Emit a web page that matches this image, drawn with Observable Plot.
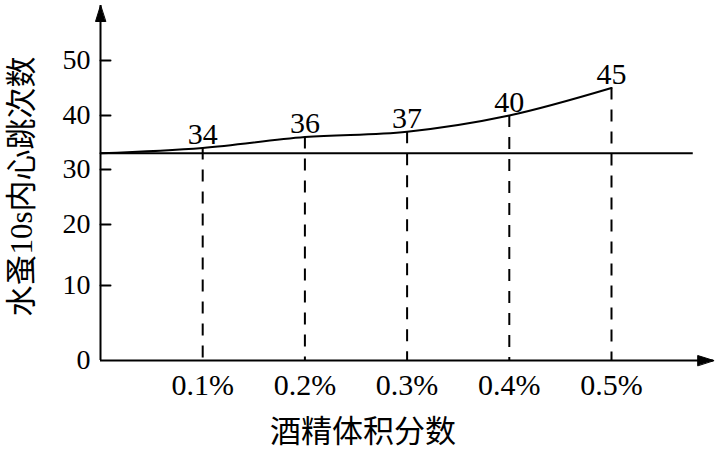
<!DOCTYPE html>
<html><head><meta charset="utf-8">
<script src="https://cdn.jsdelivr.net/npm/d3@7"></script>
<script src="https://cdn.jsdelivr.net/npm/@observablehq/plot@0.6"></script>
<style>body{margin:0;background:#fff}</style>
</head><body><div id="chart"></div>
<script>
// Data
const concentrations = [0, 0.1, 0.2, 0.3, 0.4, 0.5];   // 酒精体积分数 (%)
const heartbeats = [33, 34, 36, 37, 40, 45];           // 水蚤10s内心跳次数
const baseline = 33;                                    // 清水对照
const xTicks = [0.1, 0.2, 0.3, 0.4, 0.5];
const yTicks = [0, 10, 20, 30, 40, 50];
const xTitle = "酒精体积分数";
const yTitle = "水蚤10s内心跳次数";
const xAxisEnd = 0.6;
const yAxisEnd = 60;
const baselineEnd = 0.58;

// The printed y axis is not evenly spaced; warp values onto it (scale config)
const yWarp = d3.scaleLinear().domain(yTicks).range([0, 75, 136, 191, 245, 300]);

const points = concentrations.map((c, i) => ({c, n: heartbeats[i]}));
const labeled = points.filter(d => d.c > 0);

const font = '"Liberation Serif", "Times New Roman", "Noto Sans CJK SC", serif';
const tickShape = {draw(ctx, l) { ctx.moveTo(0, 0); ctx.lineTo(0, -l); }};
const headShape = {draw(ctx) { ctx.moveTo(0, 0); ctx.lineTo(-5, 16); ctx.lineTo(5, 16); ctx.closePath(); }};

const chart = Plot.plot({
  width: 721, height: 461,
  marginLeft: 100, marginRight: 110, marginTop: 60, marginBottom: 101,
  style: {fontFamily: font, background: "white", color: "black"},
  x: {domain: [0, 0.5], range: [100, 611]},
  y: {transform: yWarp, domain: [0, 300], range: [360, 60], axis: null},
  marks: [
    Plot.axisX({ticks: xTicks, tickSize: 0, tickPadding: 13, tickFormat: d => d + "%", fontSize: 30, label: null}),
    Plot.text(yTicks, {x: 0, y: d => d, text: d => String(d), textAnchor: "end", lineAnchor: "middle", dx: -10, fontSize: 28}),
    Plot.ruleY([baseline], {x1: 0, x2: baselineEnd, strokeWidth: 2}),
    Plot.ruleX(labeled, {x: "c", y1: "n", y2: 0, strokeDasharray: "12,10", strokeWidth: 2}),
    Plot.line(points, {x: "c", y: "n", curve: "monotone-x", strokeWidth: 2}),
    Plot.text(labeled, {x: "c", y: "n", text: d => String(d.n), lineAnchor: "bottom", dy: -4, fontSize: 30}),
    Plot.ruleX([0], {y1: 0, y2: yAxisEnd, strokeWidth: 2}),
    Plot.ruleY([0], {x1: 0, x2: xAxisEnd, strokeWidth: 2}),
    Plot.vector([0], {x: 0, y: yAxisEnd, length: 1, rotate: 0, anchor: "start", shape: headShape, fill: "black", stroke: "black", strokeWidth: 1}),
    Plot.vector([0], {x: xAxisEnd, y: 0, length: 1, rotate: 90, anchor: "start", shape: headShape, fill: "black", stroke: "black", strokeWidth: 1}),
    Plot.vector(yTicks.filter(v => v > 0), {x: 0, y: d => d, length: 10, rotate: 90, anchor: "start", shape: tickShape, strokeWidth: 2}),
    Plot.text([xTitle], {text: d => d, frameAnchor: "bottom", dy: 72, dx: 7, fontSize: 31, lineAnchor: "middle", textAnchor: "middle"}),
    Plot.text([yTitle], {text: d => d, frameAnchor: "left", rotate: -90, dx: -78, dy: -24, fontSize: 31, lineAnchor: "middle", textAnchor: "middle"})
  ]
});
document.getElementById("chart").append(chart);
</script>
</body></html>
